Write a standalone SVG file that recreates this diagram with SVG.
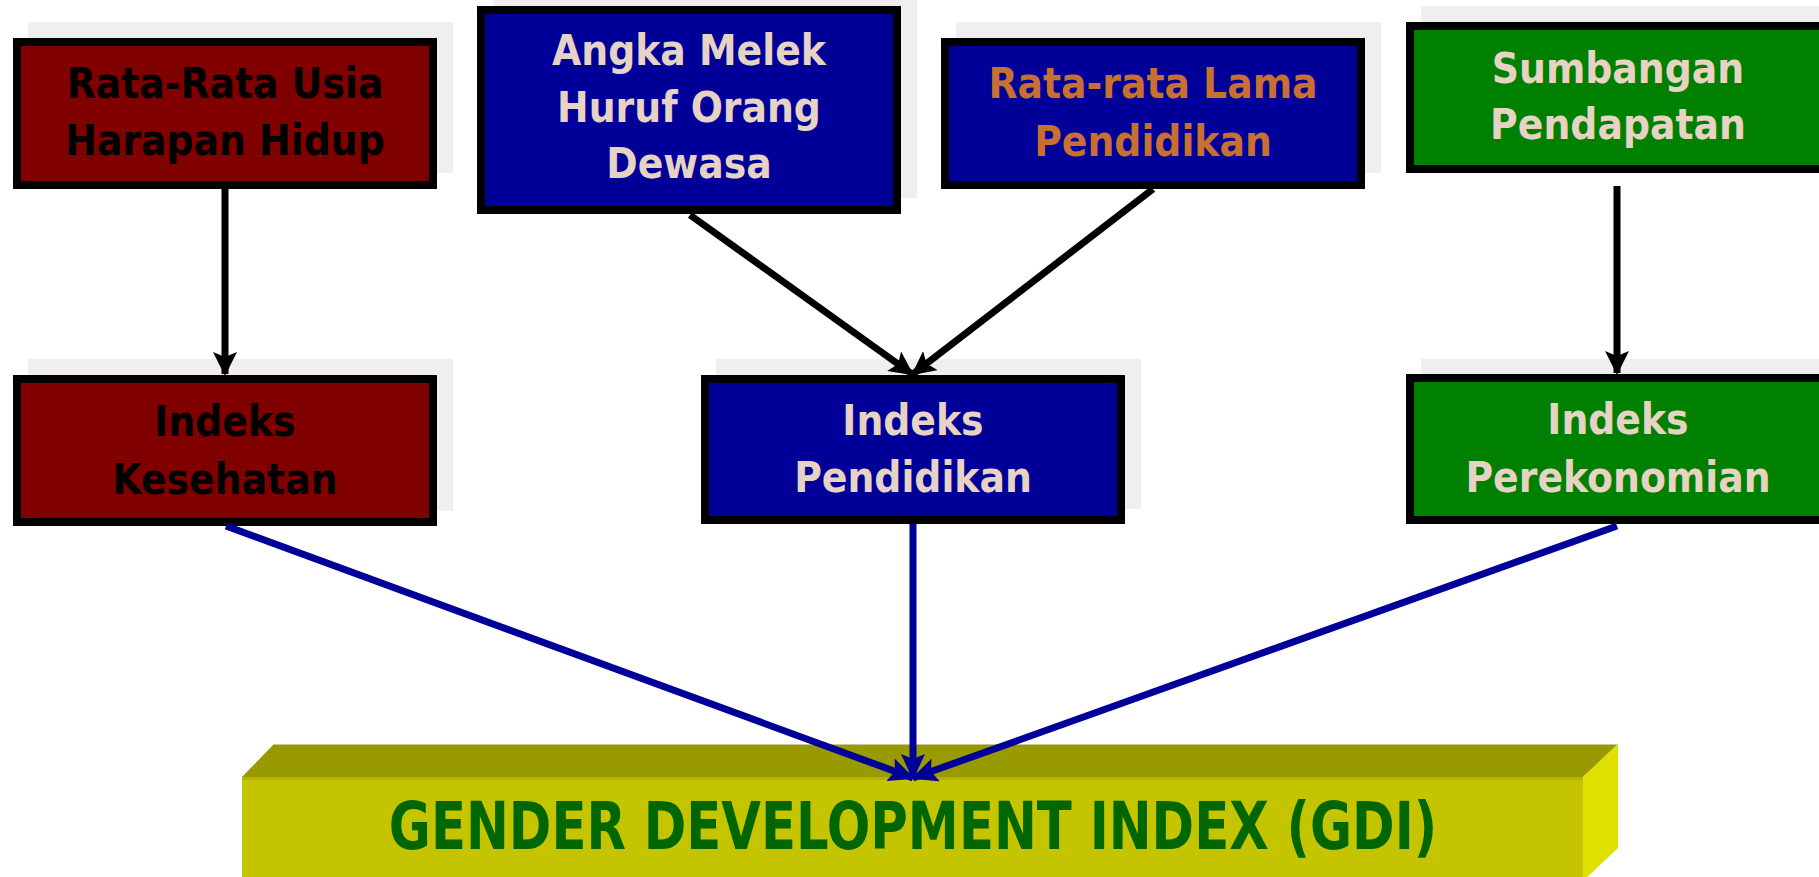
<svg xmlns="http://www.w3.org/2000/svg" width="1819" height="877" viewBox="0 0 1819 877">
<style>
.shadow{fill:#efefef}
.box{stroke:#000;stroke-width:8}
.red{fill:#800000}
.blue{fill:#000099}
.green{fill:#008000}
text{font-family:"DejaVu Sans Condensed","DejaVu Sans",sans-serif;font-weight:bold;font-stretch:condensed;font-size:42px;text-anchor:middle}
.tb{fill:#000}
.tl{fill:#e6d3c4}
.to{fill:#c8702f}
.k{stroke:#000;stroke-width:7;fill:none}
.b{stroke:#000099;stroke-width:7;fill:none}
</style>
<defs>
<marker id="ak" markerWidth="24" markerHeight="24" viewBox="0 0 24 24" refX="22" refY="12" orient="auto" markerUnits="userSpaceOnUse">
<path d="M0,0 L24,12 L0,24 L5,12 Z" fill="#000"/>
</marker>
<marker id="ab" markerWidth="26" markerHeight="24" viewBox="0 0 26 24" refX="24" refY="12" orient="auto" markerUnits="userSpaceOnUse">
<path d="M0,0 L26,12 L0,24 L5,12 Z" fill="#000099"/>
</marker>
</defs>

<g id="gdi">
<polygon points="274,744 1618,744 1583,777 242,777" fill="#999900"/>
<line x1="274" y1="744.5" x2="1618" y2="744.5" stroke="#c8c890" stroke-width="1"/>
<rect x="242" y="777" width="1341" height="100" fill="#c4c400"/>
<rect x="242" y="777" width="1341" height="3" fill="#b4b400"/>
<polygon points="1583,777 1618,744 1618,848 1583,881" fill="#e0e000"/>
<text x="913" y="849" style="font-size:57px;fill:#006600" transform="translate(913,849) scale(1,1.14) translate(-913,-849)">GENDER DEVELOPMENT INDEX (GDI)</text>
</g>

<g id="n1">
<rect class="shadow" x="28" y="22" width="425" height="151"/>
<rect class="box red" x="17" y="42" width="416" height="143"/>
<text class="tb" x="225" y="98">Rata-Rata Usia</text>
<text class="tb" x="225" y="155">Harapan Hidup</text>
</g>

<g id="n2">
<rect class="shadow" x="493" y="-10" width="424" height="208"/>
<rect class="box blue" x="481" y="10" width="416" height="200"/>
<text class="tl" x="689" y="65">Angka Melek</text>
<text class="tl" x="689" y="122">Huruf Orang</text>
<text class="tl" x="689" y="178">Dewasa</text>
</g>

<g id="n3">
<rect class="shadow" x="956" y="22" width="425" height="151"/>
<rect class="box blue" x="945" y="42" width="416" height="143"/>
<text class="to" x="1153" y="98">Rata-rata Lama</text>
<text class="to" x="1153" y="156">Pendidikan</text>
</g>

<g id="n4">
<rect class="shadow" x="1421" y="6" width="425" height="151"/>
<rect class="box green" x="1410" y="26" width="416" height="143"/>
<text class="tl" x="1618" y="83">Sumbangan</text>
<text class="tl" x="1618" y="139">Pendapatan</text>
</g>

<g id="n5">
<rect class="shadow" x="28" y="359" width="425" height="152"/>
<rect class="box red" x="17" y="379" width="416" height="143"/>
<text class="tb" x="225" y="436">Indeks</text>
<text class="tb" x="225" y="494">Kesehatan</text>
</g>

<g id="n6">
<rect class="shadow" x="716" y="359" width="425" height="150"/>
<rect class="box blue" x="705" y="379" width="416" height="141"/>
<text class="tl" x="913" y="435">Indeks</text>
<text class="tl" x="913" y="492">Pendidikan</text>
</g>

<g id="n7">
<rect class="shadow" x="1421" y="359" width="425" height="150"/>
<rect class="box green" x="1410" y="378" width="416" height="142"/>
<text class="tl" x="1618" y="434">Indeks</text>
<text class="tl" x="1618" y="492">Perekonomian</text>
</g>

<g id="connectors">
<line class="k" x1="225" y1="189" x2="225" y2="374" marker-end="url(#ak)"/>
<line class="k" x1="690" y1="215" x2="912" y2="374" marker-end="url(#ak)"/>
<line class="k" x1="1153" y1="189" x2="913" y2="374" marker-end="url(#ak)"/>
<line class="k" x1="1617" y1="186" x2="1617" y2="373" marker-end="url(#ak)"/>
<line class="b" x1="226" y1="526" x2="913" y2="778" marker-end="url(#ab)"/>
<line class="b" x1="913" y1="524" x2="913" y2="778" marker-end="url(#ab)"/>
<line class="b" x1="1617" y1="526" x2="913" y2="778" marker-end="url(#ab)"/>
</g>
</svg>
